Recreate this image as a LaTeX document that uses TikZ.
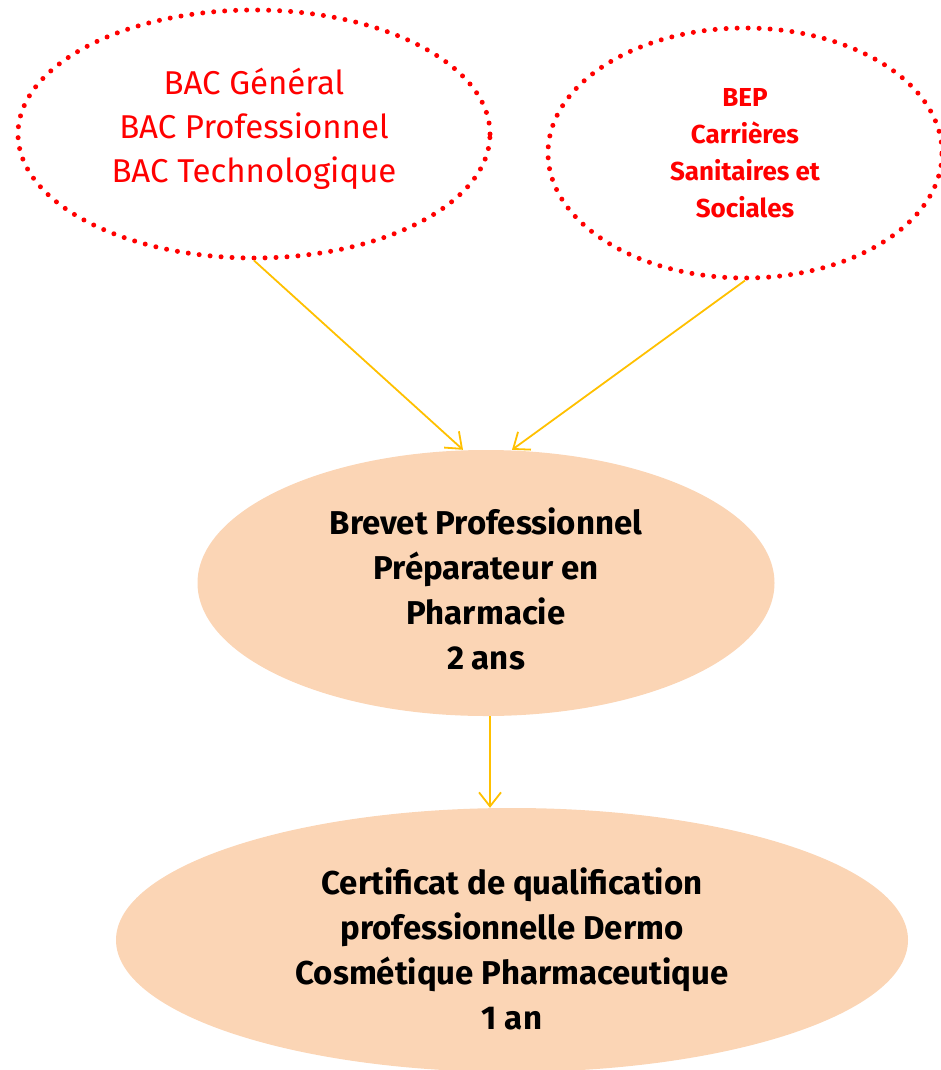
\documentclass[tikz,border=0pt]{standalone}
\usepackage{fontspec}
\setmainfont{Fira Sans}
\usetikzlibrary{shapes.geometric,arrows.meta}
\definecolor{peach}{HTML}{FBD5B5}
\definecolor{gold}{HTML}{FFC000}
\begin{document}
\begin{tikzpicture}[x=1pt,y=-1pt]
        \tikzstyle{origin}=[ellipse,draw=red,line width=5pt,dash pattern=on 0pt off 11pt,line cap=round,inner sep=0pt,align=center,text=red]
        \tikzstyle{diploma}=[ellipse,fill=peach,inner sep=0pt,align=center,font=\bfseries\fontsize{33}{45}\selectfont]
        \tikzstyle{edge}=[draw=gold,line width=1.8pt,-{Straight Barb[length=14pt,width=22pt]}]
       \useasboundingbox (0,0) rectangle (941,1070);
       \begin{scope}
         \node [origin,minimum width=472pt,minimum height=248pt,font=\fontsize{33}{44}\selectfont] (bac) at (254,134) {BAC Général\\BAC Professionnel\\BAC Technologique\rule[-17pt]{0pt}{0pt}};
         \node [origin,minimum width=394pt,minimum height=250pt,font=\bfseries\fontsize{26}{37}\selectfont] (bep) at (745,153) {BEP\\Carrières\\Sanitaires et\\Sociales};
         \node [diploma,minimum width=577pt,minimum height=266pt] (bp) at (486,583) {\rule{0pt}{38pt}Brevet Professionnel\\Préparateur en\\Pharmacie\\2 ans};
         \node [diploma,minimum width=792pt,minimum height=264pt] (cqp) at (512,940) {\rule{0pt}{44pt}Certificat de qualification\\professionnelle Dermo\\Cosmétique Pharmaceutique\\1 an};
         \path (bac.south) edge[edge] ([xshift=-23pt]bp.north);
         \path (bep.south) edge[edge] ([xshift=26pt]bp.north);
         \path ([xshift=4pt]bp.south) edge[edge] ([xshift=4pt]bp.south |- cqp.north);
        \end{scope}
      \end{tikzpicture}
\end{document}
